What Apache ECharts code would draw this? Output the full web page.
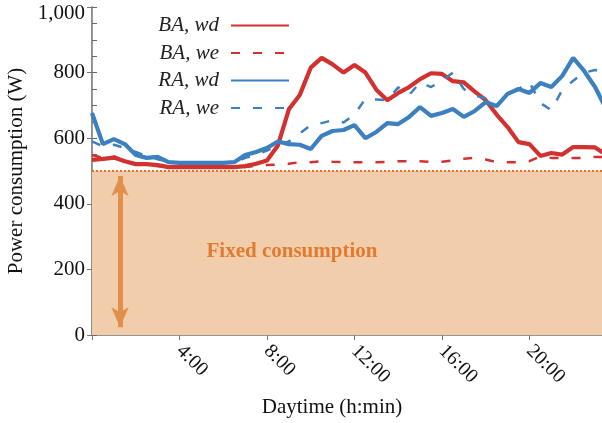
<!DOCTYPE html>
<html>
<head>
<meta charset="utf-8">
<script src="https://cdn.jsdelivr.net/npm/echarts@6/dist/echarts.min.js"></script>
<style>
html, body { margin: 0; padding: 0; background: #fff; }
#chart { width: 602px; height: 423px; }
</style>
</head>
<body>
<div id="chart"></div>
<script>
// half-hour samples over the day
var hours = [0, 0.5, 1, 1.5, 2, 2.5, 3, 3.5, 4, 4.5, 5, 5.5, 6, 6.5, 7, 7.5,
    8, 8.5, 9, 9.5, 10, 10.5, 11, 11.5, 12, 12.5, 13, 13.5, 14, 14.5, 15, 15.5,
    16, 16.5, 17, 17.5, 18, 18.5, 19, 19.5, 20, 20.5, 21, 21.5, 22, 22.5, 23, 23.5];

var baWd = [534, 537, 541, 530, 521, 521, 518, 512, 512, 512, 512, 512, 512, 512, 515, 522,
    532, 578, 688, 732, 815, 845, 825, 800, 823, 800, 748, 716, 738, 756, 780, 798,
    796, 774, 770, 742, 716, 672, 634, 588, 582, 546, 555, 550, 573, 573, 572, 550];
var baWe = [549, 540, 545, 530, 520, 518, 515, 512, 510, 510, 510, 510, 510, 510, 512, 515,
    518, 520, 522, 527, 527, 530, 528, 527, 527, 527, 527, 528, 530, 530, 530, 528,
    528, 532, 537, 540, 535, 527, 527, 527, 530, 545, 540, 540, 540, 540, 543, 543];
var raWd = [677, 582, 597, 582, 549, 540, 543, 527, 525, 525, 525, 525, 525, 527, 549, 558,
    570, 590, 582, 580, 567, 607, 622, 625, 640, 600, 619, 646, 643, 665, 695, 668,
    677, 689, 665, 683, 710, 698, 735, 750, 738, 768, 756, 790, 845, 805, 756, 690];
var raWe = [590, 575, 580, 570, 558, 546, 536, 528, 525, 525, 525, 525, 525, 525, 540, 550,
    562, 578, 590, 615, 640, 646, 655, 648, 672, 720, 718, 716, 755, 732, 770, 756,
    775, 800, 750, 730, 722, 700, 730, 750, 771, 707, 686, 747, 775, 800, 808, 805];

var tickHours = [4, 8, 12, 16, 20];
var tickLabels = ['4:00', '8:00', '12:00', '16:00', '20:00'];

var fixedLevel = 500;
var arrowHour = 1.28;
var arrowFrom = 24;
var arrowTo = 485;

var serif = 'Liberation Serif';
var red = '#d2322f';
var blue = '#3c80c0';
var axisColor = '#6e6660';

function pairs(vals) {
    var out = [];
    for (var i = 0; i < hours.length; i++) {
        out.push([hours[i], vals[i]]);
    }
    return out;
}

function lineSeries(name, vals, color, dashed) {
    return {
        name: name,
        type: 'line',
        data: pairs(vals),
        symbol: 'none',
        z: 3,
        lineStyle: dashed ? { color: color, width: 2.5, type: [9, 13] } : { color: color, width: 4.2 },
        itemStyle: { color: color }
    };
}

var chart = echarts.init(document.getElementById('chart'));

var opt = {
    animation: false,
    grid: { left: 92, right: -4, top: 7, bottom: 88, outerBoundsMode: 'none', containLabel: false },
    legend: {
        data: ['BA, wd', 'BA, we', 'RA, wd', 'RA, we'],
        orient: 'vertical',
        align: 'right',
        right: 312,
        top: 15,
        padding: 0,
        itemWidth: 58,
        itemHeight: 20,
        itemGap: 6.5,
        itemStyle: { opacity: 0 },
        textStyle: { fontFamily: serif, fontStyle: 'italic', fontSize: 21, color: '#222', padding: [0, 7, 0, 0] }
    },
    xAxis: [{
        type: 'value',
        min: 0,
        max: 23.5,
        interval: 4,
        name: 'Daytime (h:min)',
        nameLocation: 'middle',
        nameGap: 62,
        nameTextStyle: { fontFamily: serif, fontSize: 21, color: '#111', padding: [0, 34, 0, 0] },
        axisLine: { lineStyle: { color: axisColor, width: 1.5 } },
        axisTick: { inside: true, length: 5, lineStyle: { color: axisColor } },
        splitLine: { show: false },
        axisLabel: {
            rotate: -45,
            margin: 13,
            fontFamily: serif,
            fontSize: 20,
            color: '#111',
            formatter: function (v) {
                var k = tickHours.indexOf(v);
                return k >= 0 ? tickLabels[k] : '';
            }
        }
    }, {
        type: 'value',
        position: 'top',
        min: 0,
        max: 23.5,
        interval: 4,
        axisLine: { lineStyle: { color: '#999', width: 1.5 } },
        axisTick: { inside: true, length: 5, lineStyle: { color: '#777' } },
        axisLabel: { show: false },
        splitLine: { show: false }
    }],
    yAxis: [{
        type: 'value',
        min: 0,
        max: 1000,
        interval: 200,
        name: 'Power consumption (W)',
        nameLocation: 'middle',
        nameGap: 62,
        nameTextStyle: { fontFamily: serif, fontSize: 21, color: '#111' },
        axisLine: { show: true, lineStyle: { color: axisColor, width: 1.5 } },
        axisTick: { show: true, inside: true, length: 5, lineStyle: { color: axisColor } },
        minorTick: { show: true, splitNumber: 4, length: 5, lineStyle: { color: axisColor } },
        splitLine: { show: false },
        axisLabel: {
            margin: 7,
            fontFamily: serif,
            fontSize: 21,
            color: '#111',
            formatter: function (v) {
                if (v === 1000) return '{top|1,000}';
                return String(v);
            },
            rich: { top: { fontFamily: serif, fontSize: 21, color: '#111', padding: [12, 0, 0, 0] } }
        }
    }, {
        type: 'value',
        position: 'right',
        min: 0,
        max: 1000,
        interval: 200,
        axisLine: { show: true, lineStyle: { color: '#999' } },
        axisTick: { show: true, inside: true, length: 5, lineStyle: { color: '#777' } },
        axisLabel: { show: false },
        splitLine: { show: false }
    }],
    graphic: [{
        type: 'text',
        x: 292,
        y: 252,
        style: {
            text: 'Fixed consumption',
            font: 'bold 21px "Liberation Serif"',
            fill: '#e07b30',
            align: 'center',
            verticalAlign: 'middle'
        },
        z: 10
    }],
    series: [{
        name: 'fixed',
        type: 'line',
        data: [],
        z: 1,
        markArea: {
            silent: true,
            itemStyle: { color: '#f2cdab' },
            data: [[{ yAxis: 0 }, { yAxis: fixedLevel }]]
        },
        markLine: {
            silent: true,
            symbol: 'none',
            label: { show: false },
            data: [
                { yAxis: fixedLevel, lineStyle: { color: '#f06a1e', width: 2, type: [2, 2] } },
                [
                    { coord: [arrowHour, arrowFrom], symbol: 'arrow', symbolSize: [13, 20] },
                    { coord: [arrowHour, arrowTo], symbol: 'arrow', symbolSize: [13, 20] }
                ]
            ],
            lineStyle: { color: '#e0904c', width: 5, type: 'solid' },
            itemStyle: { color: '#e0904c' }
        }
    },
        lineSeries('BA, wd', baWd, red, false),
        lineSeries('BA, we', baWe, red, true),
        lineSeries('RA, wd', raWd, blue, false),
        lineSeries('RA, we', raWe, blue, true)
    ]
};

chart.setOption(opt);
</script>
</body>
</html>
